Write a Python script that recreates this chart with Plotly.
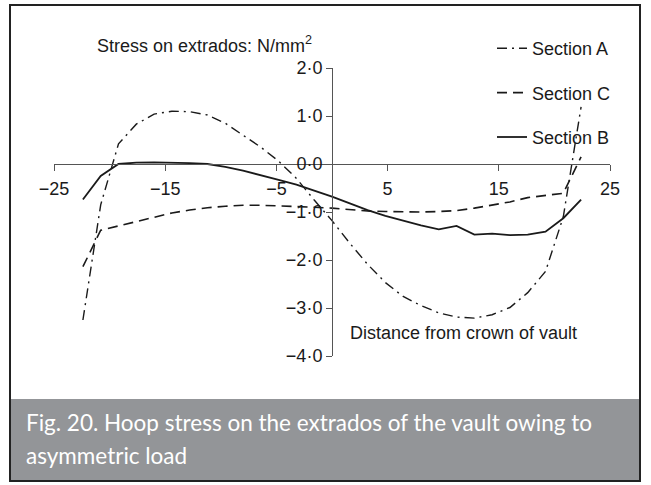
import plotly.graph_objects as go

# ---------------- data ----------------
distance = [-22.4, -20.8, -19.2, -17.6, -16.0, -14.4, -12.8, -11.2, -9.6, -8.0,
            -6.4, -4.8, -3.2, -1.6, 0.0, 1.6, 3.2, 4.8, 6.4, 8.0,
            9.6, 11.2, 12.8, 14.4, 16.0, 17.6, 19.2, 20.8, 22.4]

section_a = [-3.25, -0.85, 0.42, 0.83, 1.04, 1.10, 1.09, 1.02, 0.85, 0.60,
             0.35, 0.06, -0.30, -0.75, -1.18, -1.65, -2.09, -2.47, -2.76, -2.95,
             -3.10, -3.19, -3.21, -3.14, -2.99, -2.68, -2.24, -1.10, 1.19]

section_c = [-2.14, -1.38, -1.29, -1.20, -1.10, -1.02, -0.96, -0.91, -0.88, -0.86,
             -0.86, -0.87, -0.88, -0.90, -0.92, -0.95, -0.98, -0.99, -1.00, -1.00,
             -0.99, -0.97, -0.92, -0.86, -0.79, -0.70, -0.65, -0.61, 0.15]

section_b = [-0.74, -0.25, 0.00, 0.03, 0.035, 0.035, 0.02, 0.00, -0.06, -0.14,
             -0.23, -0.33, -0.43, -0.55, -0.68, -0.82, -0.96, -1.08, -1.18, -1.28,
             -1.36, -1.29, -1.47, -1.45, -1.48, -1.47, -1.41, -1.13, -0.74]

x_tickvals = [-25, -15, -5, 5, 15, 25]
x_ticktext = ["\u221225", "\u221215", "\u22125", "5", "15", "25"]
y_tickvals = [2, 1, 0, -1, -2, -3, -4]
y_ticktext = ["2\u00b70", "1\u00b70", "0\u00b70", "\u22121\u00b70", "\u22122\u00b70",
              "\u22123\u00b70", "\u22124\u00b70"]

series_names = ["Section A", "Section C", "Section B"]

# ---------------- layout geometry (pixels) ----------------
W, H = 651, 485
L, R, T, B = 54, 610, 68, 356  # plot area in px


def px_x(px):
    return (px - L) / (R - L)


def px_y(py):
    return (B - py) / (B - T)


INK = "#1a1a1a"
FONT = "Liberation Sans, Arial, sans-serif"
FS = 18

fig = go.Figure()
fig.add_trace(go.Scatter(x=distance, y=section_a, mode="lines", name=series_names[0],
                         legendgroup="a",
                         line=dict(color=INK, width=1.4, dash="10px,5px,2px,5px")))
fig.add_trace(go.Scatter(x=distance, y=section_c, mode="lines", name=series_names[1],
                         legendgroup="c",
                         line=dict(color=INK, width=1.6, dash="10px,6px")))
fig.add_trace(go.Scatter(x=distance, y=section_b, mode="lines", name=series_names[2],
                         legendgroup="b",
                         line=dict(color=INK, width=1.8)))

fig.update_layout(
    width=W, height=H,
    margin=dict(l=L, r=W - R, t=T, b=H - B),
    paper_bgcolor="white", plot_bgcolor="white",
    font=dict(family=FONT, size=FS, color=INK),
    showlegend=True,
    legend=dict(x=px_x(492), y=px_y(30), xanchor="left", yanchor="top",
                bgcolor="rgba(0,0,0,0)", font=dict(size=FS, family=FONT, color=INK),
                traceorder="grouped", tracegroupgap=18, itemwidth=30),
    xaxis=dict(range=[-25, 25], tickvals=x_tickvals, ticktext=x_ticktext,
               showgrid=False, zeroline=False, showline=True, linecolor="#555",
               linewidth=1, ticks="outside", ticklen=6, tickcolor="#555",
               anchor="free", position=4 / 6, ticklabelstandoff=2,
               tickfont=dict(size=FS, family=FONT, color=INK)),
    yaxis=dict(range=[-4, 2], tickvals=y_tickvals, ticktext=y_ticktext,
               showgrid=False, zeroline=False, showline=True, linecolor="#555",
               linewidth=1, ticks="outside", ticklen=6, tickcolor="#555",
               anchor="free", position=0.5, ticklabelstandoff=0,
               tickfont=dict(size=FS, family=FONT, color=INK)),
)

# caption band and outer frame
fig.add_shape(type="rect", xref="paper", yref="paper",
              x0=px_x(10), x1=px_x(640), y0=px_y(481), y1=px_y(399),
              fillcolor="#939598", line=dict(width=0), layer="below")
fig.add_shape(type="rect", xref="paper", yref="paper",
              x0=px_x(10), x1=px_x(640), y0=px_y(481), y1=px_y(5),
              fillcolor="rgba(0,0,0,0)", line=dict(color="#222", width=2))

fig.add_annotation(xref="paper", yref="paper", x=px_x(95), y=px_y(45),
                   xanchor="left", yanchor="middle", showarrow=False,
                   text="Stress on extrados: N/mm<sup>2</sup>",
                   font=dict(size=FS, family=FONT, color=INK))
fig.add_annotation(xref="paper", yref="paper", x=px_x(348), y=px_y(333),
                   xanchor="left", yanchor="middle", showarrow=False,
                   text="Distance from crown of vault",
                   font=dict(size=FS, family=FONT, color=INK))

CAP_FONT = "Lato, Open Sans, sans-serif"
fig.add_annotation(xref="paper", yref="paper", x=px_x(24), y=px_y(422),
                   xanchor="left", yanchor="middle", showarrow=False,
                   text="Fig. 20. Hoop stress on the extrados of the vault owing to",
                   font=dict(size=22.5, family=CAP_FONT, color="white"))
fig.add_annotation(xref="paper", yref="paper", x=px_x(24), y=px_y(455),
                   xanchor="left", yanchor="middle", showarrow=False,
                   text="asymmetric load",
                   font=dict(size=22.5, family=CAP_FONT, color="white"))

fig.write_html("out.html", config={"displayModeBar": False},
               post_script="document.body.style.margin='0';")
